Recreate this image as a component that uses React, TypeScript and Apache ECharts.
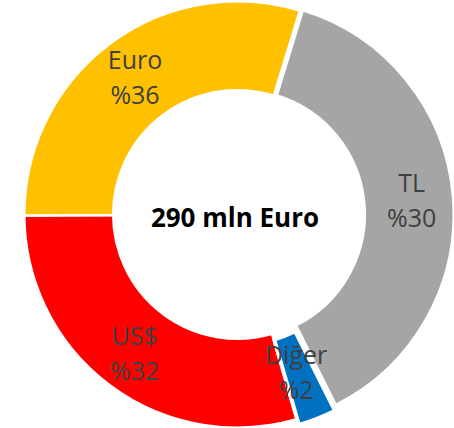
import React, { useEffect, useRef } from "react";
import * as echarts from "echarts";

const categories = ["TL", "Diğer", "US$", "Euro"];
const shares = [37.9, 2.9, 29.4, 29.8];
// Percent labels printed on the slices
const labelPercents = [30, 2, 32, 36];
const colors = ["#A5A5A5", "#0070C0", "#FF0000", "#FFC000"];
const centerText = "290 mln Euro";

const CLEAR = "rgba(0,0,0,0)";

export default function App() {
  const ref = useRef<HTMLDivElement>(null);

  useEffect(() => {
    document.body.style.margin = "0";
    if (!ref.current) return;
    const chart = echarts.init(ref.current, null, { renderer: "svg" });

    const labelBase = {
      position: "inside" as const,
      fontFamily: "Open Sans",
      fontSize: 25,
      lineHeight: 35,
      color: "#404040",
      formatter: (p: any) => `${p.name}\n%${labelPercents[p.dataIndex]}`,
    };

    const common = {
      type: "pie" as const,
      center: [237.5, 214.5],
      radius: [124.3, 213.2],
      startAngle: 73,
      clockwise: true,
      selectedMode: "multiple" as const,
      avoidLabelOverlap: false,
      labelLine: { show: false },
      emphasis: { disabled: true },
      itemStyle: { borderColor: "#ffffff", borderWidth: 2.5 },
      label: labelBase,
    };

    chart.setOption({
      animation: false,
      series: [
        {
          ...common,
          selectedOffset: 3,
          data: categories.map((name, i) => ({
            name,
            value: shares[i],
            selected: i === 0,
            itemStyle:
              i === 1
                ? { color: CLEAR, borderWidth: 0 }
                : { color: colors[i] },
            label: { show: i !== 1 },
          })),
        },
        {
          ...common,
          selectedOffset: 6,
          labelLayout: (p: any) =>
            p.dataIndex === 1 ? { dx: -6, dy: -9 } : {},
          data: categories.map((name, i) => ({
            name,
            value: shares[i],
            selected: i === 1,
            itemStyle:
              i === 1
                ? { color: colors[i], borderWidth: 4, borderColor: "#ffffff" }
                : { color: CLEAR, borderWidth: 0 },
            label: { show: i === 1 },
          })),
        },
      ],
      graphic: [
        {
          type: "text",
          x: 235,
          y: 217,
          style: {
            text: centerText,
            fontFamily: "Open Sans",
            fontSize: 26,
            fontWeight: "bold",
            fill: "#000000",
            align: "center",
            verticalAlign: "middle",
            textAlign: "center",
            textVerticalAlign: "middle",
          },
        },
      ],
    });

    return () => chart.dispose();
  }, []);

  return <div ref={ref} style={{ width: 454, height: 428 }} />;
}
